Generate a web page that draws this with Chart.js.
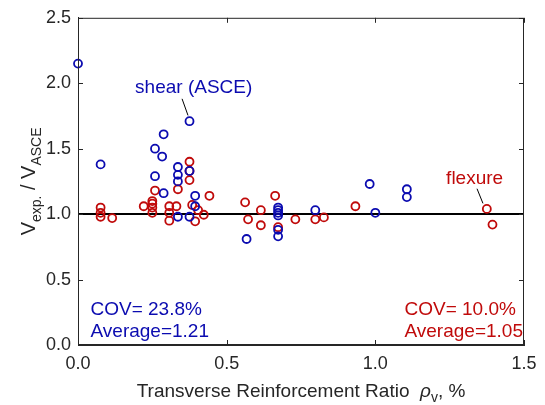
<!DOCTYPE html>
<html>
<head>
<meta charset="utf-8">
<script src="https://cdn.jsdelivr.net/npm/chart.js@4"></script>
<style>
html,body{margin:0;padding:0;background:#fff;}
#wrap{width:545px;height:405px;position:relative;}
</style>
</head>
<body>
<div id="wrap"><canvas id="c" width="545" height="405"></canvas></div>
<script>
// ---- data ----
const shearX = [0.0,0.076,0.288,0.259,0.283,0.259,0.375,0.336,0.375,0.336,0.336,0.288,0.394,0.394,0.336,0.375,0.567,0.673,0.673,0.673,0.673,0.673,0.673,0.798,0.981,1.0,1.106,1.106];
const shearY = [2.15,1.38,1.61,1.50,1.44,1.29,1.71,1.36,1.33,1.30,1.25,1.16,1.14,1.06,0.98,0.98,0.81,1.05,1.03,1.01,0.99,0.88,0.83,1.03,1.23,1.01,1.19,1.13];
const flexX = [0.076,0.076,0.076,0.115,0.221,0.259,0.25,0.25,0.25,0.25,0.307,0.331,0.307,0.307,0.336,0.375,0.375,0.375,0.384,0.404,0.394,0.423,0.442,0.562,0.572,0.615,0.615,0.663,0.673,0.731,0.798,0.827,0.933,1.375,1.394];
const flexY = [1.05,1.01,0.98,0.97,1.06,1.18,1.10,1.08,1.05,1.01,1.06,1.06,1.01,0.95,1.19,1.40,1.33,1.26,1.07,1.03,0.945,0.995,1.14,1.09,0.96,1.03,0.915,1.14,0.90,0.96,0.96,0.975,1.06,1.04,0.92];
const refX = [0, 1.5];
const refY = [1, 1];
const xTicks = [0, 0.5, 1.0, 1.5];
const yTicks = [0, 0.5, 1.0, 1.5, 2.0, 2.5];
const labelShear = "shear (ASCE)";
const labelFlex = "flexure";
const statsShear = ["COV= 23.8%", "Average=1.21"];
const statsFlex = ["COV= 10.0%", "Average=1.05"];

const BLUE = '#0b0bb0';
const RED = '#c00a0a';
const AX = '#262626';
const FONT = '"Liberation Sans", Arial, Helvetica, sans-serif';

const pts = (xs, ys) => xs.map((x, i) => ({x: x, y: ys[i]}));

const deco = {
  id: 'deco',
  afterDatasetsDraw(chart) {
    const ctx = chart.ctx, ca = chart.chartArea;
    const xs = chart.scales.x, ys = chart.scales.y;
    ctx.save();
    // box
    ctx.strokeStyle = AX; ctx.lineWidth = 1;
    ctx.strokeRect(ca.left + 0.5, ca.top + 0.5, ca.right - ca.left - 1, ca.bottom - ca.top - 1);
    // inward ticks
    const tl = 5;
    ctx.beginPath();
    xTicks.forEach(v => {
      const p = Math.round(xs.getPixelForValue(v)) + 0.5;
      ctx.moveTo(p, ca.bottom); ctx.lineTo(p, ca.bottom - tl);
      ctx.moveTo(p, ca.top); ctx.lineTo(p, ca.top + tl);
    });
    yTicks.forEach(v => {
      const p = Math.round(ys.getPixelForValue(v)) + 0.5;
      ctx.moveTo(ca.left, p); ctx.lineTo(ca.left + tl, p);
      ctx.moveTo(ca.right, p); ctx.lineTo(ca.right - tl, p);
    });
    ctx.stroke();

    // annotations
    const px = v => xs.getPixelForValue(v), py = v => ys.getPixelForValue(v);
    ctx.font = '19px ' + FONT;
    ctx.textBaseline = 'alphabetic';
    ctx.textAlign = 'left';
    ctx.fillStyle = BLUE;
    ctx.fillText(labelShear, px(0.192), py(1.925));
    ctx.fillText(statsShear[0], px(0.042), py(0.231));
    ctx.fillText(statsShear[1], px(0.042), py(0.060));
    ctx.fillStyle = RED;
    ctx.fillText(labelFlex, px(1.238), py(1.231));
    ctx.fillText(statsFlex[0], px(1.098), py(0.231));
    ctx.fillText(statsFlex[1], px(1.098), py(0.060));
    // leader lines
    ctx.strokeStyle = '#000'; ctx.lineWidth = 1;
    ctx.beginPath();
    ctx.moveTo(px(0.350), py(1.881)); ctx.lineTo(px(0.370), py(1.754));
    ctx.moveTo(px(1.342), py(1.194)); ctx.lineTo(px(1.362), py(1.082));
    ctx.stroke();

    // x title
    ctx.fillStyle = AX;
    const big = '19px ' + FONT, sub = '14px ' + FONT;
    const parts = [
      {t: 'Transverse Reinforcement Ratio  ', f: big, dy: 0},
      {t: 'ρ', f: 'italic 19px ' + FONT, dy: 0},
      {t: 'v', f: sub, dy: 5},
      {t: ', %', f: big, dy: 0}
    ];
    let tw = 0;
    parts.forEach(p => { ctx.font = p.f; p.w = ctx.measureText(p.t).width; tw += p.w; });
    let cx = (ca.left + ca.right) / 2 - tw / 2;
    const by = 397;
    parts.forEach(p => { ctx.font = p.f; ctx.fillText(p.t, cx, by + p.dy); cx += p.w; });

    // y title (rotated)
    const yb = '20px ' + FONT, ysub = '14px ' + FONT;
    const yparts = [
      {t: 'V', f: yb, dy: 0},
      {t: 'exp.', f: ysub, dy: 6},
      {t: ' / V', f: yb, dy: 0},
      {t: 'ASCE', f: ysub, dy: 6}
    ];
    let yw = 0;
    yparts.forEach(p => { ctx.font = p.f; p.w = ctx.measureText(p.t).width; yw += p.w; });
    ctx.translate(35, (ca.top + ca.bottom) / 2);
    ctx.rotate(-Math.PI / 2);
    let cy = -yw / 2;
    yparts.forEach(p => { ctx.font = p.f; ctx.fillText(p.t, cy, p.dy); cy += p.w; });
    ctx.restore();
  }
};

new Chart(document.getElementById('c'), {
  type: 'scatter',
  data: {
    datasets: [
      {label: 'shear', data: pts(shearX, shearY), borderColor: BLUE, backgroundColor: 'rgba(0,0,0,0)',
       pointRadius: 4, pointBorderWidth: 1.8, pointHoverRadius: 4, showLine: false, clip: false},
      {label: 'flexure', data: pts(flexX, flexY), borderColor: RED, backgroundColor: 'rgba(0,0,0,0)',
       pointRadius: 4, pointBorderWidth: 1.8, pointHoverRadius: 4, showLine: false, clip: false},
      {label: 'ref', type: 'line', data: pts(refX, refY), borderColor: '#000', borderWidth: 2,
       pointRadius: 0, showLine: true, fill: false}
    ]
  },
  options: {
    responsive: false,
    animation: false,
    devicePixelRatio: 1,
    layout: {padding: {top: 10, right: 21, left: 0, bottom: 0}},
    plugins: {legend: {display: false}, tooltip: {enabled: false}},
    scales: {
      x: {
        type: 'linear', min: 0, max: 1.5,
        afterBuildTicks: s => { s.ticks = xTicks.map(v => ({value: v})); },
        afterFit: s => { s.height = 60; },
        grid: {display: false, drawTicks: false},
        border: {display: true, color: AX, width: 1},
        ticks: {color: AX, font: {family: FONT, size: 18}, padding: 8, maxRotation: 0,
                callback: v => Number(v).toFixed(1)}
      },
      y: {
        type: 'linear', min: 0, max: 2.5,
        afterBuildTicks: s => { s.ticks = yTicks.map(v => ({value: v})); },
        afterFit: s => { s.width = 78; },
        grid: {display: false, drawTicks: false},
        border: {display: true, color: AX, width: 1},
        ticks: {color: AX, font: {family: FONT, size: 18}, padding: 7,
                callback: v => Number(v).toFixed(1)}
      }
    }
  },
  plugins: [deco]
});
</script>
</body>
</html>
